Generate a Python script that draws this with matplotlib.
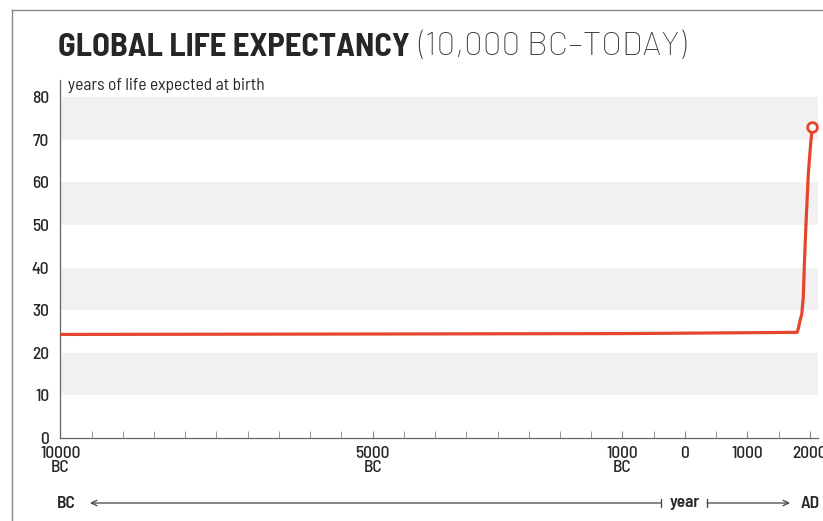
import matplotlib
matplotlib.use("Agg")
import matplotlib.pyplot as plt
from matplotlib.lines import Line2D
from matplotlib.patches import ArrowStyle

plt.rcParams['font.family'] = ['Barlow Semi Condensed', 'DejaVu Sans']

# data
years = [-10000, -5000, -1000, 0, 1000, 1798, 1820, 1841, 1870, 1894, 1915, 1937, 1975, 2012, 2040]
life_exp = [24.3, 24.4, 24.5, 24.6, 24.7, 24.8, 26, 27.5, 29, 33, 42, 50, 62, 69, 73]

band_ranges = [(10, 20), (30, 40), (50, 60), (70, 80)]
y_ticks = [0, 10, 20, 30, 40, 50, 60, 70, 80]
x_major = [-10000, -5000, -1000, 0, 1000, 2000]
x_major_labels = ["10000\nBC", "5000\nBC", "1000\nBC", "0", "1000", "2000"]

red = "#e5462b"
dark = "#262626"

fig = plt.figure(figsize=(8.23, 5.21), dpi=100)
ax = fig.add_axes([60.3 / 823, 1 - 438 / 521, (818 - 60.3) / 823, (438 - 80) / 521])

for lo, hi in band_ranges:
    ax.axhspan(lo, hi, color="#f1f1f3", lw=0, zorder=0)

ax.plot(years, life_exp, color=red, lw=2.3, zorder=3, solid_capstyle="butt", solid_joinstyle="round")
ax.plot(years[-1], life_exp[-1], "o", ms=7, mfc="white", mec=red, mew=2, zorder=4)

ax.set_xlim(-10000, 2130)
ax.set_ylim(0, 84)

for s in ["top", "right"]:
    ax.spines[s].set_visible(False)
for s in ["left", "bottom"]:
    ax.spines[s].set_color("#666666")
    ax.spines[s].set_linewidth(0.9)

ax.set_yticks(y_ticks)
ax.set_yticklabels([str(v) for v in y_ticks], fontsize=12.5, color=dark, fontweight="medium")
ax.tick_params(axis="y", length=0, pad=8)

ax.set_xticks(list(range(-10000, 2001, 500)), minor=True)
ax.set_xticks(x_major)
ax.set_xticklabels(x_major_labels, fontsize=12.5, color=dark, fontweight="medium", linespacing=0.85)
ax.tick_params(axis="x", which="both", direction="in", length=5, color="#888888", pad=6)

ax.text(0.01, 0.985, "years of life expected at birth", transform=ax.transAxes,
        fontsize=12.5, color=dark, va="center", ha="left")

# title
ty = 1 - 47 / 521
t1 = fig.text(58 / 823, ty, "GLOBAL LIFE EXPECTANCY", fontsize=23.5, fontweight="bold",
              color=dark, va="center")
fig.canvas.draw()
bb = t1.get_window_extent()
fig.text(bb.x1 / fig.bbox.width + 0.01, ty, "(10,000 BC\u2013TODAY)", fontsize=24,
         color="#3a3a3a", va="center", fontweight="light", family=["Barlow", "DejaVu Sans"])

# BC / year / AD axis
yb = 1 - 503 / 521
fig.text(57 / 823, yb, "BC", fontsize=12.5, fontweight="semibold", color=dark, va="center", ha="left")
fig.text(685 / 823, yb, "year", fontsize=12.5, fontweight="semibold", color=dark, va="center", ha="center")
fig.text(820 / 823, yb, "AD", fontsize=12.5, fontweight="semibold", color=dark, va="center", ha="right")
ax.annotate("", xy=(90 / 823, yb), xytext=(661 / 823, yb), xycoords="figure fraction",
            arrowprops=dict(arrowstyle=ArrowStyle("->", head_length=0.4, head_width=0.2),
                            color="#444444", lw=0.9, shrinkA=0, shrinkB=0))
ax.annotate("", xy=(790 / 823, yb), xytext=(707 / 823, yb), xycoords="figure fraction",
            arrowprops=dict(arrowstyle=ArrowStyle("->", head_length=0.4, head_width=0.2),
                            color="#444444", lw=0.9, shrinkA=0, shrinkB=0))
for xp in [661, 707]:
    fig.add_artist(Line2D([xp / 823, xp / 823], [yb - 0.008, yb + 0.008], color="#444444", lw=0.9))

# frame
fig.add_artist(Line2D([12 / 823, 12 / 823], [0, 1 - 10 / 521], color="#888888", lw=1))
fig.add_artist(Line2D([12 / 823, 1], [1 - 10 / 521, 1 - 10 / 521], color="#888888", lw=1))

fig.savefig("out.png", dpi=100)
